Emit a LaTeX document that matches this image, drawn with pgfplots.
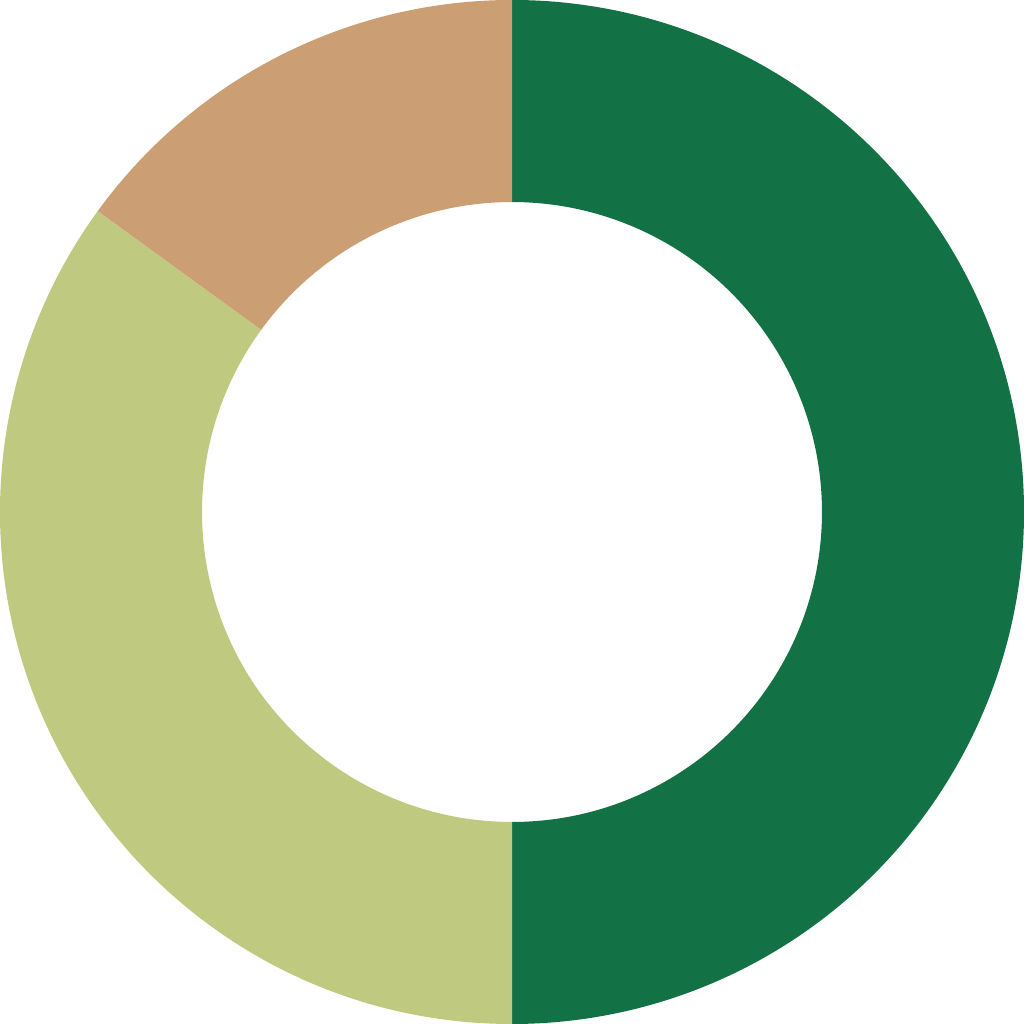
\documentclass[border=0pt]{standalone}
\usepackage{pgfplots}
\usepackage{pgfplotstable}
\pgfplotsset{compat=1.18}

\definecolor{c1}{HTML}{137146}
\definecolor{c2}{HTML}{BFCA80}
\definecolor{c3}{HTML}{CB9E73}

\pgfplotstableread{
label value color
A 50 c1
B 35 c2
C 15 c3
}\piedata

\begin{document}
\begin{tikzpicture}
  \begin{axis}[
    width=10cm, height=10cm,
    scale only axis,
    xmin=-1, xmax=1, ymin=-1, ymax=1,
    axis lines=none,
    ticks=none,
  ]
    % donut: outer radius 5cm (=1 axis unit), inner ~0.605
    \pgfplotsextra{
      \gdef\angA{90}
      \pgfplotstableforeachcolumnelement{value}\of\piedata\as\v{%
        \pgfplotstablegetelem{\pgfplotstablerow}{color}\of\piedata
        \let\col\pgfplotsretval
        \pgfmathsetmacro\angB{\angA-3.6*\v}
        \fill[\col, shift={(axis cs:0,0)}]
          (\angA:5cm) arc[start angle=\angA, end angle=\angB, radius=5cm]
          -- (\angB:3.027cm) arc[start angle=\angB, end angle=\angA, radius=3.027cm]
          -- cycle;
        \xdef\angA{\angB}
      }
    }
  \end{axis}
\end{tikzpicture}
\end{document}
